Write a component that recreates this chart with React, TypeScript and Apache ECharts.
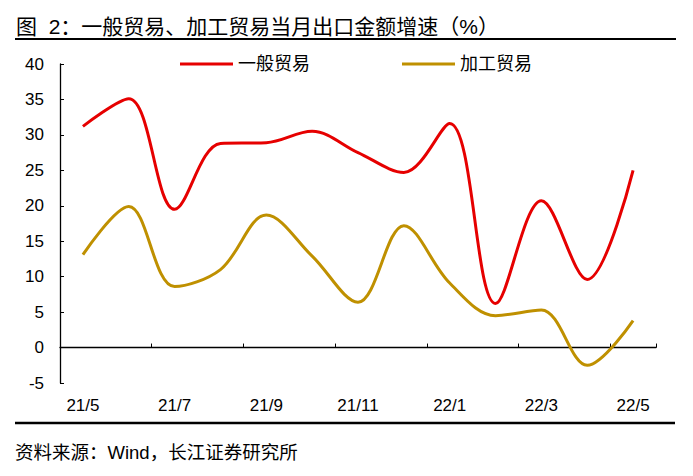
import React, { useEffect, useRef } from "react";
import * as echarts from "echarts";

const categories = ["21/5", "21/6", "21/7", "21/8", "21/9", "21/10", "21/11", "21/12", "22/1", "22/2", "22/3", "22/4", "22/5"];
const generalTrade = [31.2, 35.1, 19.5, 28.8, 28.9, 30.5, 27.5, 24.7, 31.6, 6.2, 20.7, 9.6, 25.0];
const processingTrade = [13.1, 19.9, 8.6, 11.0, 18.7, 12.9, 6.4, 17.2, 9.1, 4.5, 5.3, -2.5, 3.8];
const yTicks = { min: -5, max: 40, interval: 5 };

const titleText = "图  2：一般贸易、加工贸易当月出口金额增速（%）";
const sourceText = "资料来源：Wind，长江证券研究所";
const FONT = "'Liberation Sans', 'Noto Sans CJK SC', sans-serif";

export default function App() {
  const ref = useRef<HTMLDivElement>(null);
  useEffect(() => {
    if (!ref.current) return;
    const chart = echarts.init(ref.current, undefined, { renderer: "svg" });
    chart.setOption({
      animation: false,
      backgroundColor: "#ffffff",
      textStyle: { fontFamily: FONT, color: "#000" },
      title: {
        text: titleText,
        left: 11,
        top: 11,
        textStyle: { fontFamily: FONT, fontSize: 21, fontWeight: "normal", color: "#000" },
      },
      graphic: [
        { type: "line", shape: { x1: 15, y1: 39, x2: 676, y2: 39 }, style: { stroke: "#000", lineWidth: 2 } },
        { type: "line", shape: { x1: 15, y1: 423, x2: 675, y2: 423 }, style: { stroke: "#000", lineWidth: 2.5 } },
        {
          type: "text",
          left: 15,
          top: 443,
          style: { text: sourceText, fontFamily: FONT, fontSize: 18.5, fill: "#000" },
        },
      ],
      legend: {
        left: 175,
        top: 50,
        icon: "rect",
        itemWidth: 53,
        itemHeight: 3,
        itemGap: 92,
        textStyle: { fontFamily: FONT, fontSize: 18, color: "#000" },
        data: ["一般贸易", "加工贸易"],
      },
      grid: { left: 60, right: 37, top: 64, bottom: 93, containLabel: false },
      xAxis: [
        {
          type: "category",
          data: categories,
          position: "bottom",
          boundaryGap: true,
          axisLine: { show: false, onZero: false },
          axisTick: { show: false },
          axisLabel: { interval: 1, fontFamily: FONT, fontSize: 17, color: "#000", margin: 14 },
        },
        {
          type: "category",
          data: categories,
          position: "bottom",
          boundaryGap: true,
          axisLine: { show: true, onZero: true, lineStyle: { color: "#000", width: 1.3 } },
          axisTick: {
            show: true,
            inside: true,
            length: 4,
            interval: (index: number) => index > 0 && index % 2 === 0,
            lineStyle: { color: "#000", width: 1 },
          },
          axisLabel: { show: false },
        },
      ],
      yAxis: {
        type: "value",
        min: yTicks.min,
        max: yTicks.max,
        interval: yTicks.interval,
        axisLine: { show: true, lineStyle: { color: "#000", width: 1.3 } },
        axisTick: { show: true, inside: true, length: 4, lineStyle: { color: "#000" } },
        axisLabel: { fontFamily: FONT, fontSize: 17, color: "#000", margin: 16 },
        splitLine: { show: false },
      },
      series: [
        {
          name: "一般贸易",
          type: "line",
          data: generalTrade,
          xAxisIndex: 0,
          smooth: 0.35,
          showSymbol: false,
          symbol: "none",
          lineStyle: { color: "#E60000", width: 3 },
          itemStyle: { color: "#E60000" },
        },
        {
          name: "加工贸易",
          type: "line",
          data: processingTrade,
          xAxisIndex: 0,
          smooth: 0.35,
          showSymbol: false,
          symbol: "none",
          lineStyle: { color: "#BF9000", width: 3 },
          itemStyle: { color: "#BF9000" },
        },
      ],
    });
    return () => chart.dispose();
  }, []);
  return (
    <div
      ref={ref}
      style={{ position: "fixed", left: 0, top: 0, width: 693, height: 476, background: "#fff" }}
    />
  );
}
